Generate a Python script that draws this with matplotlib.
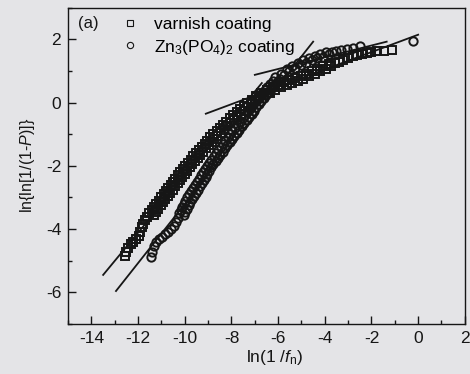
import matplotlib
matplotlib.use("Agg")
import matplotlib.pyplot as plt
from matplotlib.ticker import MultipleLocator

# --- data ---
# varnish coating (squares): sparse tail, dense band, sparse upper end
varnish_x = [-12.55, -12.5, -12.42, -12.32, -12.2, -12.08, -11.98, -11.92, -11.85, -11.78, -11.7, -11.62,
             -11.33, -11.52, -11.23, -11.42, -11.13, -11.32, -11.03, -11.22, -10.93, -11.12, -10.83, -11.02,
             -10.73, -10.91, -10.62, -10.81, -10.52, -10.71, -10.42, -10.60, -10.31, -10.50,
             -10.21, -10.40, -10.10, -10.29, -10.00, -10.19, -9.90, -10.08, -9.79, -9.98,
             -9.68, -9.86, -9.57, -9.75, -9.45, -9.63, -9.33, -9.52, -9.22, -9.40,
             -9.10, -9.28, -8.97, -9.15, -8.85, -9.03, -8.73, -8.91, -8.60, -8.78,
             -8.47, -8.64, -8.33, -8.50, -8.19, -8.36, -8.05, -8.22, -7.91, -8.08,
             -7.76, -7.93, -7.61, -7.78, -7.46, -7.62, -7.31, -7.47, -7.16, -7.32,
             -6.99, -7.14, -6.81, -6.96,
             -6.72, -6.60, -6.48, -6.36, -6.24, -6.12, -6.00, -5.88, -5.76, -5.64, -5.52, -5.40, -5.28,
             -5.16, -5.04, -4.92, -4.80, -4.68, -4.56, -4.44, -4.32, -4.20, -4.08, -3.96, -3.84, -3.72,
             -3.55, -3.4, -3.2, -3.0, -2.8, -2.6, -2.4, -2.2, -2.0, -1.75, -1.45, -1.12]
varnish_y = [-4.85, -4.72, -4.6, -4.48, -4.4, -4.3, -4.22, -4.08, -3.95, -3.85, -3.72, -3.62,
             -3.55, -3.50, -3.45, -3.40, -3.35, -3.30, -3.25, -3.20, -3.15, -3.10, -3.05, -3.00,
             -2.95, -2.90, -2.85, -2.80, -2.75, -2.70, -2.65, -2.60, -2.55, -2.50,
             -2.45, -2.40, -2.35, -2.30, -2.25, -2.20, -2.15, -2.10, -2.05, -2.00,
             -1.95, -1.90, -1.85, -1.80, -1.75, -1.70, -1.65, -1.60, -1.55, -1.50,
             -1.45, -1.40, -1.35, -1.30, -1.25, -1.20, -1.15, -1.10, -1.05, -1.00,
             -0.95, -0.90, -0.85, -0.80, -0.75, -0.70, -0.65, -0.60, -0.55, -0.50,
             -0.45, -0.40, -0.35, -0.30, -0.25, -0.20, -0.15, -0.10, -0.05, 0.00,
             0.05, 0.10, 0.15, 0.20,
             0.30, 0.23, 0.39, 0.32, 0.48, 0.40, 0.56, 0.48, 0.64, 0.56, 0.71, 0.63, 0.78,
             0.69, 0.85, 0.76, 0.92, 0.84, 0.99, 0.91, 1.07, 0.99, 1.15, 1.07, 1.23, 1.15,
             1.26, 1.3, 1.36, 1.42, 1.47, 1.5, 1.54, 1.57, 1.6, 1.62, 1.65, 1.67]

# Zn3(PO4)2 coating (circles)
zn_x = [-11.45, -11.4, -11.34, -11.25, -11.12, -10.98, -10.84, -10.7, -10.58, -10.48, -10.38, -10.3,
        -10.05, -10.25, -9.98, -10.18, -9.91, -10.12, -9.84, -10.05, -9.78, -9.98,
        -9.70, -9.90, -9.62, -9.81, -9.53, -9.73, -9.45, -9.64, -9.36, -9.56, -9.27, -9.47,
        -9.19, -9.39, -9.11, -9.31, -9.03, -9.23, -8.95, -9.15, -8.87, -9.07,
        -8.78, -8.97, -8.68, -8.87, -8.58, -8.77, -8.48, -8.67, -8.38, -8.57,
        -8.28, -8.47, -8.18, -8.37, -8.08, -8.27, -7.98, -8.17, -7.88, -8.07,
        -7.78, -7.96, -7.67, -7.85, -7.56, -7.74, -7.45, -7.63, -7.34, -7.52,
        -7.23, -7.42, -7.13, -7.32, -7.03, -7.22, -6.93, -7.12, -6.83, -7.02,
        -6.72, -6.91, -6.61, -6.80, -6.50, -6.68, -6.39, -6.57, -6.27, -6.46, -6.16, -6.35,
        -6.05, -6.23, -5.94, -6.12,
        -5.88, -5.76, -5.64, -5.52, -5.40, -5.28, -5.16, -5.04, -4.92, -4.80, -4.68, -4.56,
        -4.44, -4.32, -4.20, -4.08, -3.96, -3.84,
        -3.7, -3.5, -3.3, -3.06, -2.8, -2.5, -0.2]
zn_y = [-4.87, -4.72, -4.55, -4.42, -4.32, -4.24, -4.16, -4.08, -4.0, -3.9, -3.78, -3.66,
        -3.55, -3.50, -3.45, -3.40, -3.35, -3.30, -3.25, -3.20, -3.15, -3.10,
        -3.05, -3.00, -2.95, -2.90, -2.85, -2.80, -2.75, -2.70, -2.65, -2.60, -2.55, -2.50,
        -2.45, -2.40, -2.35, -2.30, -2.25, -2.20, -2.15, -2.10, -2.05, -2.00,
        -1.95, -1.90, -1.85, -1.80, -1.75, -1.70, -1.65, -1.60, -1.55, -1.50,
        -1.45, -1.40, -1.35, -1.30, -1.25, -1.20, -1.15, -1.10, -1.05, -1.00,
        -0.95, -0.90, -0.85, -0.80, -0.75, -0.70, -0.65, -0.60, -0.55, -0.50,
        -0.45, -0.40, -0.35, -0.30, -0.25, -0.20, -0.15, -0.10, -0.05, 0.00,
        0.05, 0.10, 0.15, 0.20, 0.25, 0.30, 0.35, 0.40, 0.45, 0.50, 0.55, 0.60,
        0.65, 0.70, 0.75, 0.80,
        0.92, 0.87, 1.05, 0.99, 1.16, 1.09, 1.26, 1.18, 1.34, 1.26, 1.42, 1.34,
        1.49, 1.40, 1.55, 1.46, 1.60, 1.53,
        1.6, 1.63, 1.66, 1.7, 1.74, 1.78, 1.94]

# fitted straight lines (end points)
fit_varnish_low_x = [-13.5, -6.7]
fit_varnish_low_y = [-5.45, 0.62]
fit_zn_low_x = [-12.95, -4.5]
fit_zn_low_y = [-5.96, 1.93]
fit_varnish_high_x = [-9.1, 0.0]
fit_varnish_high_y = [-0.35, 2.15]
fit_zn_high_x = [-7.0, -1.35]
fit_zn_high_y = [0.88, 1.93]

plt.rcParams['font.family'] = ['Liberation Sans', 'DejaVu Sans']
plt.rcParams['mathtext.fontset'] = 'custom'
plt.rcParams['mathtext.rm'] = 'Liberation Sans'
plt.rcParams['mathtext.it'] = 'Liberation Sans:italic'
plt.rcParams['axes.unicode_minus'] = False

bg = '#e4e4e7'
ink = '#161616'

fig = plt.figure(figsize=(4.7, 3.74), dpi=100, facecolor=bg)
ax = fig.add_axes([0.145, 0.134, 0.844, 0.845], facecolor=bg)

ax.plot(varnish_x, varnish_y, ls='none', marker='s', ms=5.5, mfc='none',
        mec=ink, mew=1.4, label='varnish coating')
ax.plot(zn_x, zn_y, ls='none', marker='o', ms=6, mfc='none',
        mec=ink, mew=1.4, label='Zn$_3$(PO$_4$)$_2$ coating')

for fx, fy in [(fit_varnish_low_x, fit_varnish_low_y), (fit_zn_low_x, fit_zn_low_y),
               (fit_varnish_high_x, fit_varnish_high_y), (fit_zn_high_x, fit_zn_high_y)]:
    ax.plot(fx, fy, color=ink, lw=1.3)

ax.set_xlim(-15, 2)
ax.set_ylim(-7, 3)
ax.xaxis.set_major_locator(MultipleLocator(2))
ax.xaxis.set_minor_locator(MultipleLocator(1))
ax.yaxis.set_major_locator(MultipleLocator(2))
ax.yaxis.set_minor_locator(MultipleLocator(1))
ax.tick_params(which='both', direction='in', colors=ink, labelsize=12.5, width=1.0)
ax.tick_params(which='major', length=6, pad=5)
ax.tick_params(which='minor', length=3)
for s in ax.spines.values():
    s.set_color(ink)
    s.set_linewidth(1.0)

ax.set_xlabel('ln(1 /$f$$_\\mathrm{n}$)', fontsize=12.5, color=ink, labelpad=0)
ax.xaxis.set_label_coords(0.52, -0.075)
ax.set_ylabel('ln{ln[1/(1-$P$)]}', fontsize=11.5, color=ink, labelpad=6)

ax.text(0.025, 0.975, '(a)', transform=ax.transAxes, fontsize=12, color=ink, va='top')
leg = ax.legend(loc='upper left', bbox_to_anchor=(0.095, 1.02), frameon=False, fontsize=12.5,
                handlelength=1.0, handletextpad=0.9, labelspacing=0.3, markerscale=0.75)
for h in leg.legend_handles:
    h.set_markeredgewidth(0.8)

fig.savefig('out.png', dpi=100, facecolor=bg)
